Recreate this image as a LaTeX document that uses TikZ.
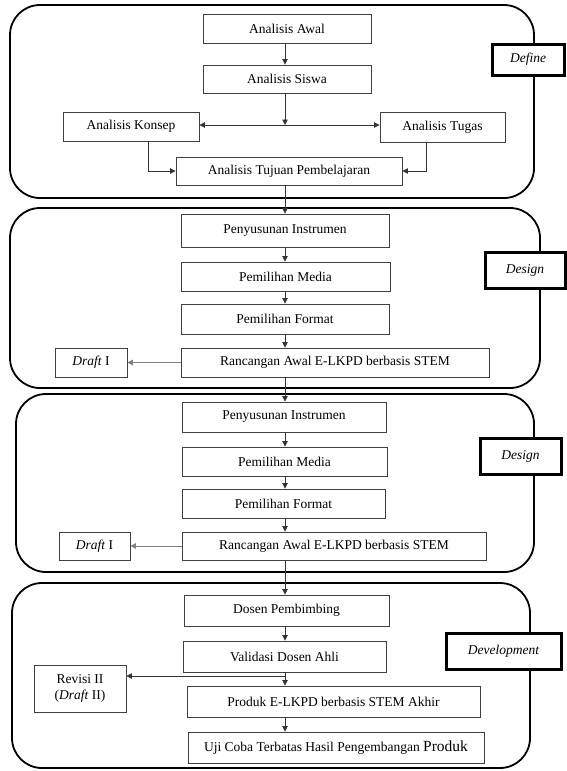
\documentclass[tikz,border=0pt]{standalone}
\usepackage{fontspec}
\setmainfont{Liberation Serif}
\usetikzlibrary{arrows.meta,calc}
\begin{document}
\begin{tikzpicture}[x=1pt,y=-1pt,
  every node/.style={font=\fontsize{13.5}{16}\selectfont},
  box/.style={draw=black!75, line width=0.9pt, fill=white, inner sep=0pt},
  phase/.style={draw=black, line width=1.8pt, rounded corners=30pt},
  lab/.style={draw=black, line width=3pt, fill=white, inner sep=0pt, font=\fontsize{13.5}{16}\selectfont\itshape},
  arr/.style={draw=black!80, line width=0.8pt, -{Triangle[length=5.5pt,width=5.5pt]}},
  garr/.style={draw=black!50, line width=1pt, -{Triangle[length=5.5pt,width=5.5pt]}}]
\useasboundingbox (0,0) rectangle (567,771);
\fill[white] (0,0) rectangle (567,771);
\coordinate (X) at (285,0);
\coordinate (kx) at (148,0);
\coordinate (tx) at (426,0);

% ---------- Define ----------
\draw[phase] (10,5) rectangle (534,198);
\node[lab, minimum width=72pt, minimum height=31pt] (ldef) at (528,59.5) {Define};
\node[box, minimum width=168pt, minimum height=29pt] (awal) at (287,28.5) {Analisis Awal};
\node[box, minimum width=168pt, minimum height=28pt] (siswa) at (287,79) {Analisis Siswa};
\node[box, minimum width=136pt, minimum height=29pt] (konsep) at (131,126.5) {Analisis Konsep};
\node[box, minimum width=125pt, minimum height=30pt] (tugas) at (442.5,127.5) {Analisis Tugas};
\node[box, minimum width=226pt, minimum height=28pt] (tujuan) at (289,171) {Analisis Tujuan Pembelajaran};
\coordinate (j1) at (285,125);
\draw[arr] (awal.south -| X) -- (siswa.north -| X);
\draw[arr] (siswa.south -| X) -- (j1);
\draw[arr] (j1) -- (j1 -| konsep.east);
\draw[arr] (j1) -- (j1 -| tugas.west);
\draw[arr] (konsep.south -| kx) |- (tujuan.west);
\draw[arr] (tugas.south -| tx) |- (tujuan.east);

% ---------- Design 1 ----------
\draw[phase] (10,208) rectangle (540,388);
\node[lab, minimum width=80pt, minimum height=36pt] (ldes1) at (525,270) {Design};
\node[box, minimum width=208pt, minimum height=33pt] (pen1) at (285,230.5) {Penyusunan Instrumen};
\node[box, minimum width=209pt, minimum height=29pt] (med1) at (285.5,276.5) {Pemilihan Media};
\node[box, minimum width=208pt, minimum height=30pt] (for1) at (285,319) {Pemilihan Format};
\node[box, minimum width=308pt, minimum height=29pt] (ran1) at (335,362.5) {Rancangan Awal E-LKPD berbasis STEM};
\node[box, minimum width=72pt, minimum height=29pt] (dr1) at (91,362.5) {\textit{Draft} I};
\draw[arr] (tujuan.south -| X) -- (pen1.north -| X);
\draw[arr] (pen1.south -| X) -- (med1.north -| X);
\draw[arr] (med1.south -| X) -- (for1.north -| X);
\draw[arr] (for1.south -| X) -- (ran1.north -| X);
\draw[garr] (ran1.west) -- (dr1.east);

% ---------- Design 2 ----------
\draw[phase] (16,394) rectangle (534,572);
\node[lab, minimum width=81pt, minimum height=36pt] (ldes2) at (520.5,456) {Design};
\node[box, minimum width=204pt, minimum height=30pt] (pen2) at (284,417) {Penyusunan Instrumen};
\node[box, minimum width=205pt, minimum height=29pt] (med2) at (284.5,461.5) {Pemilihan Media};
\node[box, minimum width=203pt, minimum height=29pt] (for2) at (283.5,503.5) {Pemilihan Format};
\node[box, minimum width=304pt, minimum height=28pt] (ran2) at (334,546) {Rancangan Awal E-LKPD berbasis STEM};
\node[box, minimum width=71pt, minimum height=28pt] (dr2) at (94.5,546) {\textit{Draft} I};
\draw[arr] (ran1.south -| X) -- (pen2.north -| X);
\draw[arr] (pen2.south -| X) -- (med2.north -| X);
\draw[arr] (med2.south -| X) -- (for2.north -| X);
\draw[arr] (for2.south -| X) -- (ran2.north -| X);
\draw[garr] (ran2.west) -- (dr2.east);

% ---------- Development ----------
\draw[phase] (12,583) rectangle (530,768);
\node[lab, minimum width=115pt, minimum height=36pt] (ldev) at (503.5,651) {Development};
\node[box, minimum width=205pt, minimum height=31pt] (dosen) at (286.5,610.5) {Dosen Pembimbing};
\node[box, minimum width=203pt, minimum height=31pt] (val) at (284.5,656.5) {Validasi Dosen Ahli};
\node[box, align=center, minimum width=92pt, minimum height=47pt] (rev) at (80,688.5) {Revisi II\\(\textit{Draft} II)};
\node[box, minimum width=293pt, minimum height=31pt] (prod) at (333.5,701.5) {Produk E-LKPD berbasis STEM Akhir};
\node[box, minimum width=296pt, minimum height=31pt] (uji) at (336,747.5) {Uji Coba Terbatas Hasil Pengembangan {\fontsize{15.5}{17}\selectfont Produk}};
\coordinate (br) at (285,676);
\draw[arr] (ran2.south -| X) -- (dosen.north -| X);
\draw[arr] (dosen.south -| X) -- (val.north -| X);
\draw[arr] (val.south -| X) -- (prod.north -| X);
\draw[arr] (br) -- (br -| rev.east);
\draw[arr] (prod.south -| X) -- (uji.north -| X);
\end{tikzpicture}
\end{document}
